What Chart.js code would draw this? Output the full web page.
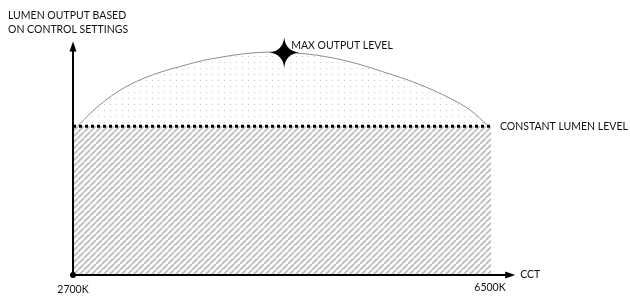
<!DOCTYPE html>
<html>
<head>
<meta charset="utf-8">
<script src="https://cdn.jsdelivr.net/npm/chart.js@4"></script>
<style>
  body { margin: 0; background: #fff; }
  #wrap { width: 630px; height: 297px; position: relative; }
</style>
</head>
<body>
<div id="wrap"><canvas id="chart"></canvas></div>
<script>
// CCT (K) along the x axis, output level on y (constant level = 100)
const cctPoints = [2740, 2855, 2975, 3127, 3279, 3430, 3582, 3734, 3885, 4036, 4188, 4370, 4521,
                   4679, 4921, 5225, 5527, 5830, 6134, 6315, 6470];
const maxOutput = [100, 108.5, 116.3, 124.2, 130.2, 134.7, 138.3, 141.4, 144.3, 146.3, 148.1, 149.5, 149.9,
                   149.5, 147.7, 143.2, 136.4, 128.7, 118.6, 110.7, 100.5];
const constantCct = [2700, 6500];
const constantLevel = [100, 100];
const maxMarker = [4620, 149.5];
const tickLabels = ["2700K", "6500K"];

const FONT = "Lato, 'Open Sans', sans-serif";

// fill patterns
function makeDots() {
  const c = document.createElement("canvas");
  c.width = 6; c.height = 6;
  const g = c.getContext("2d");
  g.fillStyle = "#c4c4c4";
  g.fillRect(2, 2, 1, 1);
  return g.createPattern(c, "repeat");
}
function makeHatch() {
  const c = document.createElement("canvas");
  c.width = 6; c.height = 6;
  const g = c.getContext("2d");
  g.strokeStyle = "#c2c2c2";
  g.lineWidth = 2;
  g.beginPath();
  for (let k = -6; k <= 12; k += 6) {
    g.moveTo(k, 6);
    g.lineTo(k + 6, 0);
  }
  g.stroke();
  return g.createPattern(c, "repeat");
}

// axes, arrows, star and labels
const decorations = {
  id: "decorations",
  afterDatasetsDraw(chart) {
    const ctx = chart.ctx;
    const x = chart.scales.x, y = chart.scales.y;
    const ox = x.getPixelForValue(constantCct[0]);
    const oy = y.getPixelForValue(0);
    const topY = y.getPixelForValue(157);
    const rightX = x.getPixelForValue(6720);

    ctx.save();
    ctx.strokeStyle = "#000";
    ctx.fillStyle = "#000";
    ctx.lineWidth = 2;
    ctx.beginPath();
    ctx.moveTo(ox, oy); ctx.lineTo(ox, topY + 8);
    ctx.moveTo(ox, oy); ctx.lineTo(rightX - 8, oy);
    ctx.stroke();
    // arrow heads
    ctx.beginPath();
    ctx.moveTo(ox, topY); ctx.lineTo(ox - 3.5, topY + 10); ctx.lineTo(ox + 3.5, topY + 10); ctx.closePath();
    ctx.fill();
    ctx.beginPath();
    ctx.moveTo(rightX, oy); ctx.lineTo(rightX - 10, oy - 3.5); ctx.lineTo(rightX - 10, oy + 3.5); ctx.closePath();
    ctx.fill();
    // origin dot
    ctx.beginPath();
    ctx.arc(ox, oy, 3, 0, Math.PI * 2);
    ctx.fill();

    // star at max output
    const sx = x.getPixelForValue(maxMarker[0]);
    const sy = y.getPixelForValue(maxMarker[1]);
    const r = 15, w = 1.5;
    ctx.beginPath();
    ctx.moveTo(sx, sy - r);
    ctx.quadraticCurveTo(sx + w, sy - w, sx + r, sy);
    ctx.quadraticCurveTo(sx + w, sy + w, sx, sy + r);
    ctx.quadraticCurveTo(sx - w, sy + w, sx - r, sy);
    ctx.quadraticCurveTo(sx - w, sy - w, sx, sy - r);
    ctx.fill();

    // texts
    ctx.font = "10.5px " + FONT;
    ctx.fillStyle = "#111";
    ctx.textBaseline = "middle";
    ctx.textAlign = "left";
    ctx.fillText("LUMEN OUTPUT BASED", 8, 16);
    ctx.fillText("ON CONTROL SETTINGS", 8, 30);
    ctx.fillText("MAX OUTPUT LEVEL", sx + 7, sy - 7);
    ctx.fillText("CONSTANT LUMEN LEVEL", x.getPixelForValue(constantCct[1]) + 9, y.getPixelForValue(constantLevel[1]));
    ctx.fillText("CCT", rightX + 5, oy);
    ctx.textAlign = "center";
    ctx.fillText(tickLabels[0], ox, oy + 15);
    ctx.fillText(tickLabels[1], x.getPixelForValue(constantCct[1]) - 1, oy + 13);
    ctx.restore();
  }
};

new Chart(document.getElementById("chart"), {
  type: "line",
  data: {
    datasets: [
      {
        label: "Constant lumen level",
        data: constantCct.map((c, i) => ({ x: c, y: constantLevel[i] })),
        borderColor: "#000",
        borderWidth: 3,
        borderDash: [3, 3],
        borderCapStyle: "butt",
        backgroundColor: makeHatch(),
        fill: "origin",
        pointRadius: 0,
        order: 1
      },
      {
        label: "Max output",
        data: cctPoints.map((c, i) => ({ x: c, y: maxOutput[i] })),
        borderColor: "#8c8c8c",
        borderWidth: 1,
        backgroundColor: makeDots(),
        fill: "-1",
        cubicInterpolationMode: "monotone",
        pointRadius: 0,
        order: 2
      }
    ]
  },
  options: {
    responsive: true,
    maintainAspectRatio: false,
    animation: false,
    layout: { padding: { left: 73, right: 139, top: 37, bottom: 22 } },
    plugins: { legend: { display: false }, tooltip: { enabled: false } },
    scales: {
      x: { type: "linear", min: 2700, max: 6500, display: false },
      y: { min: 0, max: 160, display: false }
    }
  },
  plugins: [decorations]
});
</script>
</body>
</html>
